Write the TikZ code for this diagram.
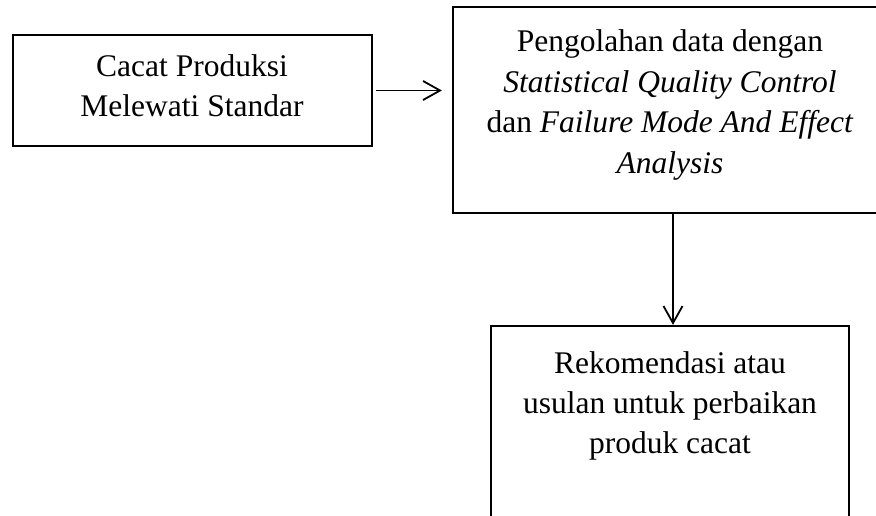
\documentclass[tikz,border=0pt]{standalone}
\usepackage{fontspec}
\setmainfont{Liberation Serif}
\usetikzlibrary{arrows.meta,calc}
\begin{document}
\begin{tikzpicture}[x=1pt,y=-1pt,
  box/.style={draw=black,line width=2.2pt,minimum width=#1,inner sep=0pt},
  txt/.style={anchor=base,inner sep=0pt,font=\fontsize{31.5}{40.5}\selectfont},
  conn/.style={line width=1.8pt,-{Straight Barb[length=17pt,width=19pt,line width=1.8pt]}}]
\useasboundingbox (0,0) rectangle (876,516);
\clip (0,0) rectangle (876,516);
\node[box=359pt,minimum height=111pt] (b1) at (192.5,90.5) {};
\node[box=434pt,minimum height=206pt] (b2) at (670,110) {};
\node[box=358pt,minimum height=234pt] (b3) at (670,443) {};
\node[txt] (t11) at (192,77) {Cacat Produksi};
\node[txt] (t12) at (192,117) {Melewati Standar};
\node[txt] (t21) at (670,52) {Pengolahan data dengan};
\node[txt] (t22) at (670,92.5) {\itshape Statistical Quality Control};
\node[txt] (t23) at (670,133) {dan \textit{Failure Mode And Effect}};
\node[txt] (t24) at (670,173.5) {\itshape Analysis};
\node[txt] (t31) at (670,373) {Rekomendasi atau};
\node[txt] (t32) at (670,413) {usulan untuk perbaikan};
\node[txt] (t33) at (670,453) {produk cacat};
\draw[conn,shorten <=3pt,shorten >=10pt] (b1.east) -- (b1.east -| b2.west);
\draw[conn] ($(b2.south)+(3,0)$) -- ($(b3.north)+(3,0)$);
\end{tikzpicture}
\end{document}
